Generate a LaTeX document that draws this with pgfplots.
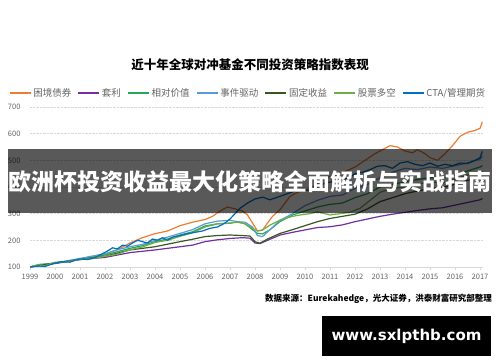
\documentclass[border=0pt]{standalone}
\usepackage{pgfplots}
\pgfplotsset{compat=1.18}
\usepackage{fontspec}
\setmainfont{Noto Sans CJK SC}
\newfontfamily\wmfont{DejaVu Sans}
\definecolor{cOrange}{RGB}{237,125,49}
\definecolor{cPurple}{RGB}{112,48,160}
\definecolor{cGreen}{RGB}{38,166,91}
\definecolor{cLBlue}{RGB}{91,155,213}
\definecolor{cDGreen}{RGB}{56,87,35}
\definecolor{cLGreen}{RGB}{112,173,71}
\definecolor{cBlue}{RGB}{0,112,192}
\definecolor{lgray}{RGB}{217,217,217}
\definecolor{tgray}{RGB}{100,100,100}
\begin{document}
\begin{tikzpicture}[x=1pt,y=1pt]
\useasboundingbox (0,0) rectangle (500,362);
\fill[white] (0,0) rectangle (500,362);
\node[font=\bfseries\fontsize{12.5}{14}\selectfont, text=black] at (250,297) {近十年全球对冲基金不同投资策略指数表现};
\begin{axis}[
  at={(30pt,95pt)}, anchor=south west, scale only axis,
  width=452.5pt, height=160pt,
  xmin=1999, xmax=2017.1, ymin=100, ymax=700,
  xtick={1999,2000,...,2017}, ytick={100,200,...,700},
  axis x line*=bottom, axis y line*=left,
  y axis line style={draw=none}, x axis line style={draw=lgray, line width=0.8pt, -},
  ytick style={draw=none}, xtick style={draw=lgray, line width=0.6pt},
  tick align=outside, major tick length=3pt,
  ymajorgrids, grid style={densely dotted, lgray, line width=0.7pt},
  tick label style={font=\fontsize{7.5}{9}\selectfont, text=tgray},
  /pgf/number format/assume math mode=true,
  /pgf/number format/1000 sep={},
  xticklabel style={yshift=-1pt},
  yticklabel style={xshift=-3pt},
  legend style={at={(0.482,1.0875)}, anchor=center, draw=none, fill=none,
    font=\fontsize{9.5}{11}\selectfont, text=tgray,
    /tikz/every even column/.append style={column sep=4.5pt},
    inner sep=0pt},
  legend columns=7,
  legend image code/.code={\draw[#1] (0pt,0pt) -- (21pt,0pt);},
  every axis plot/.append style={line width=1.2pt, line join=round},
]
\addplot[cOrange] table {
1999.0 100
1999.5 108
2000.0 115
2000.5 122
2001.0 130
2001.5 140
2002.0 148
2002.5 165
2003.0 190
2003.5 210
2004.0 225
2004.5 235
2005.0 255
2005.5 268
2006.0 278
2006.3 290
2006.6 310
2006.9 325
2007.2 318
2007.5 310
2007.7 295
2007.9 265
2008.1 235
2008.3 238
2008.5 265
2008.7 290
2009.0 315
2009.4 365
2009.7 380
2010.1 392
2010.4 405
2010.7 425
2011.0 440
2011.4 450
2011.7 462
2012.0 475
2012.4 500
2012.8 525
2013.1 540
2013.4 555
2013.7 550
2014.0 535
2014.3 528
2014.5 540
2014.8 525
2015.0 510
2015.3 500
2015.6 525
2015.9 555
2016.2 590
2016.5 605
2016.8 612
2017.0 620
2017.1 645
};
\addlegendentry{困境债券}
\addplot[cPurple] table {
1999.0 100
2000.0 113
2001.0 128
2002.0 136
2003.0 154
2004.0 164
2005.0 176
2005.5 182
2006.0 195
2006.5 202
2007.0 207
2007.5 210
2007.8 208
2008.0 190
2008.2 188
2008.5 200
2009.0 220
2009.5 230
2010.0 239
2010.5 248
2011.0 251
2011.5 258
2012.0 270
2012.5 280
2013.0 290
2013.5 298
2014.0 305
2014.5 312
2015.0 318
2015.5 322
2016.0 332
2016.5 342
2017.0 352
2017.1 357
};
\addlegendentry{套利}
\addplot[cGreen] table {
1999.0 100
1999.4 110
2000.0 114
2001.0 130
2002.0 145
2003.0 170
2003.5 180
2004.0 195
2004.5 205
2005.0 220
2005.5 232
2006.0 254
2006.5 262
2007.0 264
2007.3 270
2007.6 262
2007.9 240
2008.1 226
2008.3 224
2008.6 240
2009.0 270
2009.5 295
2010.0 310
2010.5 325
2011.0 335
2011.5 340
2012.0 360
2012.5 375
2013.0 400
2013.5 410
2014.0 420
2014.5 428
2015.0 435
2015.5 432
2016.0 445
2016.5 460
2017.0 475
2017.1 480
};
\addlegendentry{相对价值}
\addplot[cLBlue] table {
1999.0 100
2000.0 115
2001.0 132
2002.0 150
2002.5 165
2003.0 176
2003.5 185
2004.0 200
2004.5 212
2005.0 226
2005.5 240
2006.0 262
2006.5 272
2007.0 275
2007.3 270
2007.6 268
2007.9 250
2008.1 218
2008.3 214
2008.6 240
2009.0 275
2009.5 300
2010.0 330
2010.5 350
2011.0 365
2011.5 370
2012.0 395
2012.5 410
2013.0 435
2013.5 455
2014.0 470
2014.5 465
2015.0 475
2015.5 470
2016.0 480
2016.5 490
2017.0 505
2017.1 515
};
\addlegendentry{事件驱动}
\addplot[cDGreen] table {
1999.0 100
2000.0 115
2001.0 128
2002.0 140
2003.0 164
2004.0 176
2005.0 195
2005.5 204
2006.0 214
2006.5 218
2007.0 220
2007.5 218
2007.8 216
2008.0 195
2008.2 189
2008.5 205
2009.0 226
2009.5 240
2010.0 255
2010.5 270
2011.0 282
2011.5 290
2012.0 298
2012.5 318
2013.0 345
2013.5 360
2014.0 375
2014.5 385
2015.0 395
2015.5 398
2016.0 410
2016.5 425
2017.0 435
2017.1 440
};
\addlegendentry{固定收益}
\addplot[cLGreen] table {
1999.0 100
1999.3 108
1999.6 105
2000.0 118
2000.5 120
2001.0 128
2001.5 132
2002.0 140
2002.5 148
2003.0 165
2003.5 175
2004.0 192
2004.5 200
2005.0 215
2005.5 228
2006.0 250
2006.5 262
2007.0 265
2007.3 268
2007.6 262
2007.9 245
2008.1 235
2008.3 239
2008.6 257
2009.0 276
2009.5 290
2009.8 295
2010.2 300
2010.5 307
2011.0 295
2011.4 300
2011.8 305
2012.2 320
2012.6 350
2013.0 380
2013.5 395
2014.0 400
2014.5 410
2015.0 420
2015.5 415
2016.0 430
2016.5 445
2017.0 455
2017.1 460
};
\addlegendentry{股票多空}
\addplot[cBlue] table {
1999.0 100
1999.3 104
1999.6 102
2000.0 115
2000.3 120
2000.6 118
2000.8 126
2001.0 130
2001.3 128
2001.6 135
2001.9 150
2002.1 160
2002.3 172
2002.5 168
2002.7 182
2002.9 178
2003.1 190
2003.3 200
2003.5 195
2003.7 190
2003.9 205
2004.1 200
2004.3 210
2004.5 200
2004.7 212
2005.0 218
2005.3 225
2005.6 230
2005.9 235
2006.2 245
2006.5 250
2006.8 265
2007.0 280
2007.4 320
2007.7 340
2008.0 355
2008.3 362
2008.6 352
2009.0 365
2009.3 375
2009.6 385
2009.9 392
2010.2 385
2010.5 400
2010.8 415
2011.1 420
2011.4 435
2011.7 430
2012.0 450
2012.3 455
2012.6 465
2012.9 478
2013.2 480
2013.5 470
2013.8 490
2014.1 495
2014.4 485
2014.7 480
2015.0 490
2015.3 478
2015.6 485
2015.9 480
2016.2 490
2016.5 488
2016.8 500
2017.0 510
2017.1 535
};
\addlegendentry{CTA/管理期货}
\end{axis}
\fill[black, opacity=0.65] (8,149) rectangle (492,213);
\node[text=white, font=\bfseries\fontsize{23}{25}\selectfont, inner sep=0pt] at (250,180) {欧洲杯投资收益最大化策略全面解析与实战指南};
\node[anchor=east, inner sep=0pt, font=\bfseries\fontsize{8.5}{10}\selectfont] at (492,63) {数据来源：Eurekahedge，光大证券，洪泰财富研究部整理};
\fill[black] (322,6) rectangle (491,46);
\node[text=white, font=\wmfont\bfseries\fontsize{15}{17}\selectfont] at (406.5,26) {www.sxlpthb.com};
\end{tikzpicture}
\end{document}
